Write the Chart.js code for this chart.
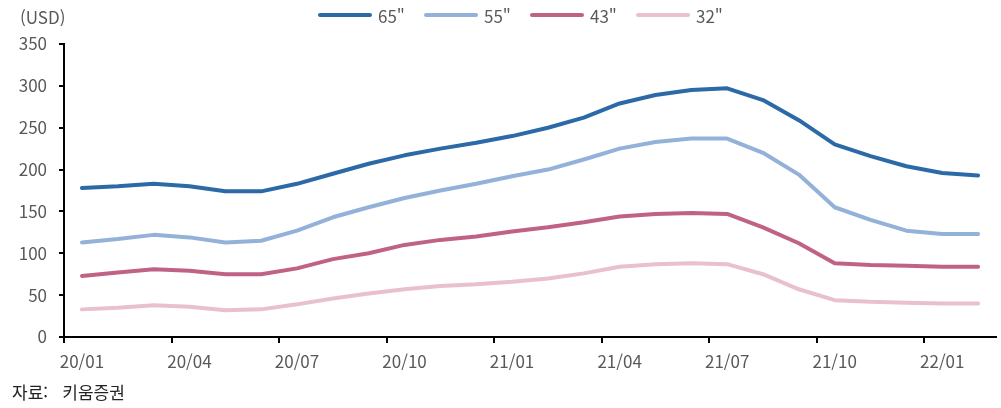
<!DOCTYPE html>
<html lang="ko">
<head>
<meta charset="utf-8">
<title>TV 패널 가격</title>
<script src="https://cdn.jsdelivr.net/npm/chart.js@4.4.1/dist/chart.umd.min.js"></script>
<style>
    body { margin: 0; background: #fff; }
    .wrap { position: relative; width: 1001px; height: 408px; font-family: "Noto Sans CJK KR", "Noto Sans", sans-serif; }
    #panelChart { position: absolute; left: 0; top: 0; }
    .unit { position: absolute; left: 20px; top: 4px; font-size: 17px; color: #595959; }
    .source { position: absolute; left: 12px; top: 379px; font-size: 17px; color: #222; white-space: pre; }
    .legend { position: absolute; left: 318px; top: 4px; height: 22px; }
    .legend-item { position: absolute; top: 0; height: 22px; display: flex; align-items: center; font-size: 17px; color: #595959; white-space: nowrap; }
    .legend-line { display: inline-block; width: 54px; height: 4px; border-radius: 2px; margin-right: 6px; }
</style>
</head>
<body>
<div class="wrap">
    <canvas id="panelChart" width="1001" height="408"></canvas>
    <div class="unit">(USD)</div>
    <div class="legend" id="legend"></div>
    <div class="source">자료:   키움증권</div>
</div>
<script>
// 월별 데이터
const months = ['20/01', '20/02', '20/03', '20/04', '20/05', '20/06', '20/07', '20/08', '20/09', '20/10', '20/11', '20/12',
    '21/01', '21/02', '21/03', '21/04', '21/05', '21/06', '21/07', '21/08', '21/09', '21/10', '21/11', '21/12',
    '22/01', '22/02'];
const seriesNames = ['65"', '55"', '43"', '32"'];
const seriesColors = ['#2b6aa7', '#93b1d9', '#c06286', '#e9c0ce'];
const tv65 = [178, 180, 183, 180, 174, 174, 183, 195, 207, 217, 225, 232, 240, 250, 262, 279, 289, 295, 297, 283, 259, 230, 216, 204, 196, 193];
const tv55 = [113, 117, 122, 119, 113, 115, 127, 143, 155, 166, 175, 183, 192, 200, 212, 225, 233, 237, 237, 220, 194, 155, 140, 127, 123, 123];
const tv43 = [73, 77, 81, 79, 75, 75, 82, 93, 100, 110, 116, 120, 126, 131, 137, 144, 147, 148, 147, 131, 112, 88, 86, 85, 84, 84];
const tv32 = [33, 35, 38, 36, 32, 33, 39, 46, 52, 57, 61, 63, 66, 70, 76, 84, 87, 88, 87, 75, 57, 44, 42, 41, 40, 40];
const yTicks = [0, 50, 100, 150, 200, 250, 300, 350];

const fontFamily = '"Noto Sans CJK KR", "Noto Sans", sans-serif';
const tickColor = '#595959';

function makeDataset(name, values, color) {
    return {
        label: name,
        data: values,
        borderColor: color,
        backgroundColor: color,
        borderWidth: 4,
        borderCapStyle: 'round',
        borderJoinStyle: 'round',
        pointRadius: 0,
        tension: 0,
        fill: false
    };
}

function buildLegend() {
    var legend = document.getElementById('legend');
    seriesNames.forEach(function (name, i) {
        var item = document.createElement('div');
        item.className = 'legend-item';
        item.style.left = (i * 106) + 'px';
        var line = document.createElement('span');
        line.className = 'legend-line';
        line.style.background = seriesColors[i];
        item.appendChild(line);
        item.appendChild(document.createTextNode(name));
        legend.appendChild(item);
    });
}
buildLegend();

const ctx = document.getElementById('panelChart').getContext('2d');
new Chart(ctx, {
    type: 'line',
    data: {
        labels: months,
        datasets: [
            makeDataset(seriesNames[0], tv65, seriesColors[0]),
            makeDataset(seriesNames[1], tv55, seriesColors[1]),
            makeDataset(seriesNames[2], tv43, seriesColors[2]),
            makeDataset(seriesNames[3], tv32, seriesColors[3])
        ]
    },
    options: {
        responsive: false,
        animation: false,
        layout: {
            padding: {top: 44, right: 5, bottom: 0, left: 0}
        },
        plugins: {
            legend: {display: false},
            tooltip: {enabled: false}
        },
        scales: {
            x: {
                type: 'category',
                offset: true,
                afterFit: function (scale) {
                    scale.height = 71;
                },
                border: {display: true, color: '#000', width: 2},
                grid: {
                    offset: true,
                    drawOnChartArea: false,
                    drawTicks: true,
                    tickLength: 6,
                    lineWidth: 2,
                    color: function (c) {
                        return c.index % 3 === 0 ? '#000' : 'rgba(0,0,0,0)';
                    }
                },
                ticks: {
                    autoSkip: false,
                    maxRotation: 0,
                    minRotation: 0,
                    padding: 8,
                    color: tickColor,
                    font: {family: fontFamily, size: 17},
                    callback: function (value, index) {
                        return index % 3 === 0 ? months[index] : '';
                    }
                }
            },
            y: {
                min: yTicks[0],
                max: yTicks[yTicks.length - 1],
                afterFit: function (scale) {
                    scale.width = 64;
                },
                afterBuildTicks: function (scale) {
                    scale.ticks = yTicks.map(function (v) { return {value: v}; });
                },
                border: {display: true, color: '#000', width: 2},
                grid: {
                    drawOnChartArea: false,
                    drawTicks: true,
                    tickLength: 5,
                    lineWidth: 2,
                    color: '#000'
                },
                ticks: {
                    padding: 12,
                    color: tickColor,
                    font: {family: fontFamily, size: 17}
                }
            }
        }
    }
});
</script>
</body>
</html>
